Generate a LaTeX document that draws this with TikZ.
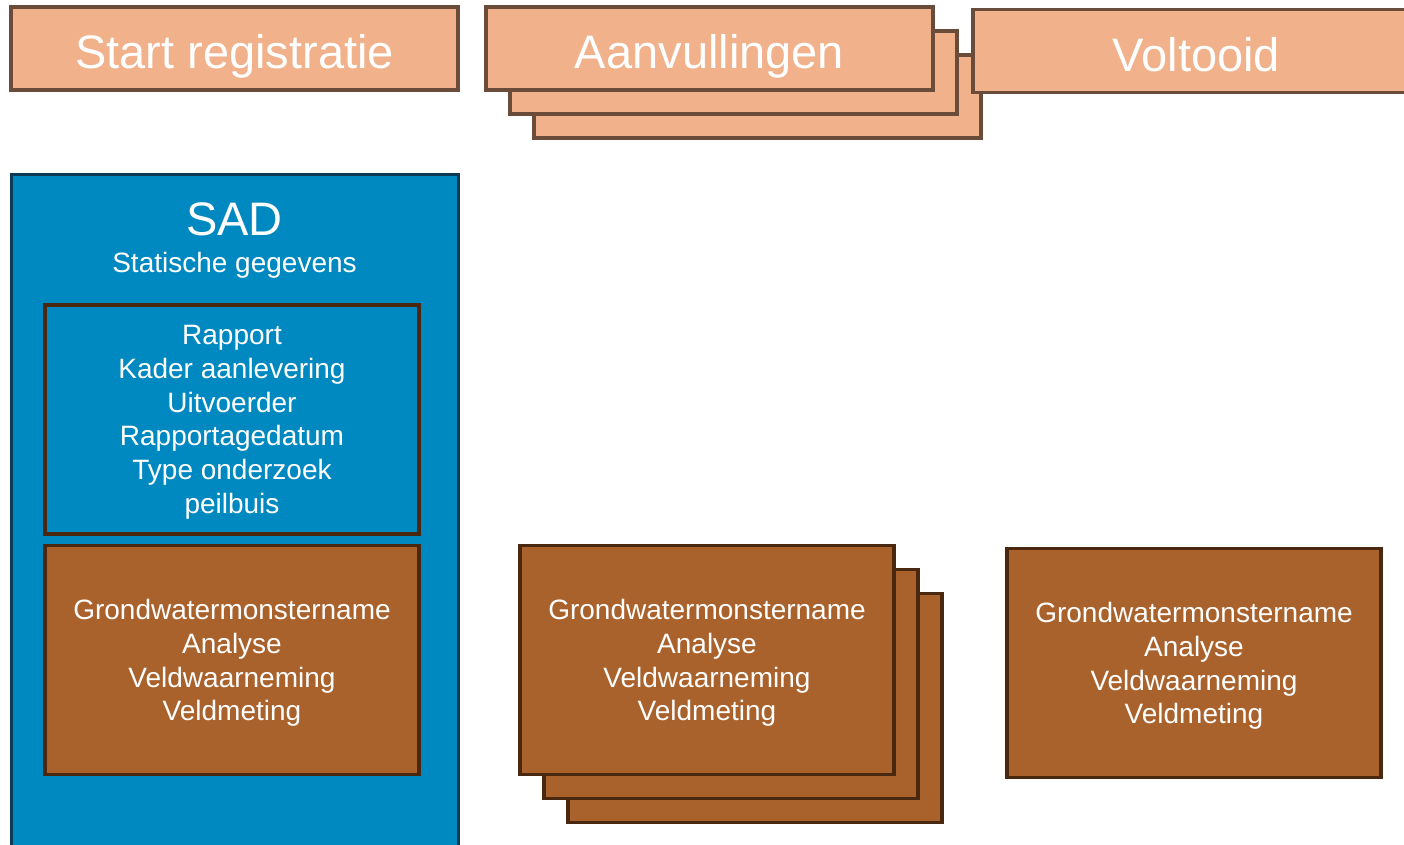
\documentclass[tikz,border=0pt]{standalone}
\usepackage{fontspec}
\setmainfont{Liberation Sans}
\usepackage{tikz}
\usetikzlibrary{positioning}
\definecolor{phasefill}{HTML}{F0B18B}
\definecolor{phaseline}{HTML}{6B4C3B}
\definecolor{sadfill}{HTML}{0088C0}
\definecolor{sadline}{HTML}{0B3B55}
\definecolor{partfill}{HTML}{AA622D}
\definecolor{partline}{HTML}{4A2810}
\tikzset{
  phase/.style={draw=phaseline, fill=phasefill, line width=3.5pt, inner sep=0pt,
    minimum width=447pt, minimum height=83pt, text=white,
    text height=40pt, text depth=0pt, font=\fontsize{47}{50}\selectfont},
  part/.style={draw=partline, fill=partfill, line width=3.5pt, inner sep=0pt,
    minimum width=374pt, minimum height=229pt, text=white, align=center,
    text depth=0pt, font=\fontsize{28}{33.7}\selectfont},
}

\begin{document}
\begin{tikzpicture}[x=1pt, y=-1pt]
            \clip (0,0) rectangle (1404,844);
            \node[phase] (start) at (234.5,48.5) {Start registratie};
            \foreach\i in {2,1}{
              \node[phase] (aanv\i) at (709.5+24*\i,48.5+24*\i) {};
            }
            \node[phase] (aanv) at (709.5,48.5) {Aanvullingen};
            \node[phase] (klaar) at (1196.5,51) {Voltooid};
            \node[draw=sadline, fill=sadfill, line width=3pt, minimum width=447pt,
              minimum height=700pt, anchor=north] (sad) at (234.5,173) {};
            \node[text=white, font=\fontsize{47}{50}\selectfont] (sadtitle) at (234.5,219) {SAD};
            \node[text=white, font=\fontsize{28}{30}\selectfont] (sadsub) at (234.5,265) {Statische gegevens};
            \node[part, fill=sadfill] (static) at (232,419.5) {
              Rapport\\
              Kader aanlevering\\
              Uitvoerder\\
              Rapportagedatum\\
              Type onderzoek\\
              peilbuis
            };
            \node[part] (start part) at (232,660) {
              Grondwatermonstername\\
              Analyse\\
              Veldwaarneming\\
              Veldmeting
            };
            \foreach\i in {2,1}{
              \node[part] (aanv part\i) at (707+24*\i,660+24*\i) {};
            }
            \node[part] (aanv part) at (707,660) {
              Grondwatermonstername\\
              Analyse\\
              Veldwaarneming\\
              Veldmeting
            };
            \node[part] (klaar part) at (1194,663) {
              Grondwatermonstername\\
              Analyse\\
              Veldwaarneming\\
              Veldmeting
            };
          \end{tikzpicture}
\end{document}
